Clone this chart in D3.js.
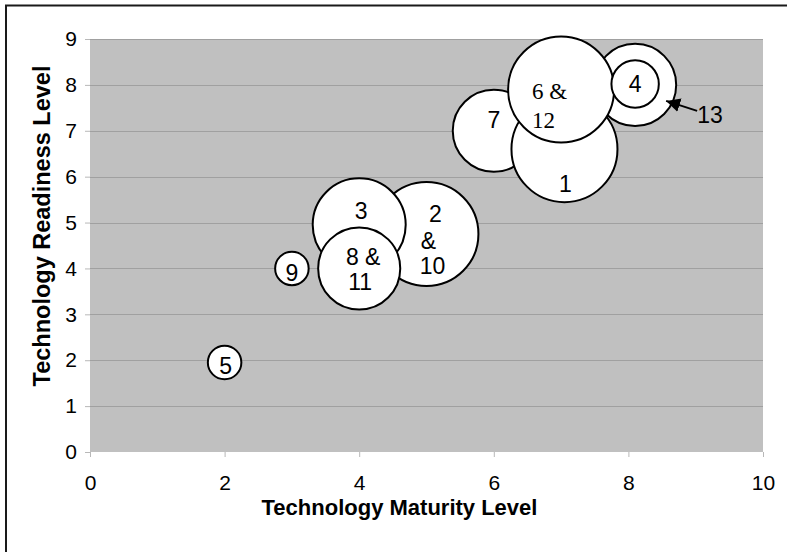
<!DOCTYPE html>
<html>
<head>
<meta charset="utf-8">
<script src="https://cdn.jsdelivr.net/npm/d3@7"></script>
<style>
  html, body { margin: 0; padding: 0; background: #fff; }
  svg { display: block; }
</style>
</head>
<body>
<svg id="chart" width="787" height="552"></svg>
<script>
// ---- data ----
const bubbleLabels = ["5", "9", "2 & 10", "3", "8 & 11", "7", "1", "13", "6 & 12", "4"];
const maturity     = [2,   3,   5,      4,    4,      6,   7.05, 8.1, 7.0,   8.1];
const readiness    = [1.95, 4,  4.75,   4.95, 4,      7,   6.6,  8,   7.9,   8.02];
const bubbleSize   = [10,  10,  96,     77,   60,     60,  100,  60,  100,   20];
const xTicks = [0, 2, 4, 6, 8, 10];
const yTicks = [0, 1, 2, 3, 4, 5, 6, 7, 8, 9];
const xTitle = "Technology Maturity Level";
const yTitle = "Technology Readiness Level";
const calloutLabel = "13";

// ---- layout / style (not data) ----
const plot = { left: 90, right: 763, top: 39, bottom: 452 };
const sans = "'Liberation Sans', Arial, Helvetica, sans-serif";
const serif = "'Liberation Serif', 'Times New Roman', serif";
// label placement per bubble: lines with offsets from the bubble centre
const labelLayout = {
  "5":      { font: sans, anchor: "middle", lines: [{ t: "5", dx: 1, dy: 3 }] },
  "9":      { font: sans, anchor: "middle", lines: [{ t: "9", dx: 0, dy: 5 }] },
  "3":      { font: sans, anchor: "middle", lines: [{ t: "3", dx: 2, dy: -14 }] },
  "8 & 11": { font: sans, anchor: "middle", lines: [{ t: "8 &", dx: 4, dy: -11 }, { t: "11", dx: 1, dy: 14 }] },
  "2 & 10": { font: sans, anchor: "middle", lines: [{ t: "2", dx: 9, dy: -20 }, { t: "&", dx: 2, dy: 7 }, { t: "10", dx: 6, dy: 32 }] },
  "7":      { font: sans, anchor: "middle", lines: [{ t: "7", dx: 0, dy: -11 }] },
  "1":      { font: sans, anchor: "middle", lines: [{ t: "1", dx: 1, dy: 35 }] },
  "6 & 12": { font: serif, anchor: "start", lines: [{ t: "6 &", dx: -29, dy: 2 }, { t: "12", dx: -29, dy: 31 }] },
  "4":      { font: sans, anchor: "middle", lines: [{ t: "4", dx: 0, dy: 0 }] },
  "13":     { font: sans, anchor: "middle", lines: [] }
};

const svg = d3.select("#chart");

const x = d3.scaleLinear().domain([0, 10]).range([plot.left, plot.right]);
const y = d3.scaleLinear().domain([0, 9]).range([plot.bottom, plot.top]);
const r = d3.scaleSqrt().domain([0, 100]).range([0, 53]);

// outer frame
svg.append("rect")
  .attr("x", 6).attr("y", 5.5)
  .attr("width", 800).attr("height", 600)
  .attr("fill", "none").attr("stroke", "#1a1a1a").attr("stroke-width", 2);

// plot background
svg.append("rect")
  .attr("x", plot.left).attr("y", plot.top)
  .attr("width", plot.right - plot.left).attr("height", plot.bottom - plot.top)
  .attr("fill", "#c0c0c0");

// grid lines
svg.append("g").selectAll("line").data(yTicks.filter(d => d > 0)).join("line")
  .attr("x1", plot.left).attr("x2", plot.right)
  .attr("y1", d => Math.round(y(d)) + 0.5).attr("y2", d => Math.round(y(d)) + 0.5)
  .attr("stroke", "#a0a0a0").attr("stroke-width", 1);

// axes
const xAxis = d3.axisBottom(x).tickValues(xTicks).tickSize(5).tickPadding(18).tickFormat(d3.format("d"));
const yAxis = d3.axisLeft(y).tickValues(yTicks).tickSize(5).tickPadding(8).tickFormat(d3.format("d"));

const gx = svg.append("g").attr("transform", `translate(0,${plot.bottom})`).call(xAxis);
const gy = svg.append("g").attr("transform", `translate(${plot.left},0)`).call(yAxis);
[gx, gy].forEach(g => {
  g.selectAll(".tick line").attr("stroke", "#b8b8b8");
  g.selectAll(".tick text").attr("fill", "#000").style("font-family", sans).style("font-size", "21px");
});
gx.select(".domain").remove();
gy.select(".domain").remove();

// axis titles
svg.append("text")
  .attr("x", (plot.left + plot.right) / 2 - 27).attr("y", 515)
  .attr("text-anchor", "middle")
  .style("font-family", sans).style("font-weight", "bold").style("font-size", "22px")
  .text(xTitle);

svg.append("text")
  .attr("transform", `translate(50,${226}) rotate(-90)`)
  .attr("text-anchor", "middle")
  .style("font-family", sans).style("font-weight", "bold").style("font-size", "23.5px")
  .text(yTitle);

// bubbles
const bubbles = bubbleLabels.map((label, i) => ({
  label, mx: maturity[i], ry: readiness[i], size: bubbleSize[i]
}));

const gb = svg.append("g");
bubbles.forEach(b => {
  const cx = x(b.mx), cy = y(b.ry);
  gb.append("circle")
    .attr("cx", cx).attr("cy", cy).attr("r", r(b.size))
    .attr("fill", "#fff").attr("stroke", "#000").attr("stroke-width", 2);
  const lay = labelLayout[b.label];
  lay.lines.forEach(l => {
    gb.append("text")
      .attr("x", cx + l.dx).attr("y", cy + l.dy)
      .attr("text-anchor", lay.anchor)
      .attr("dominant-baseline", "central")
      .style("font-family", lay.font).style("font-size", "23px")
      .text(l.t);
  });
});

// callout arrow for bubble 13
const b13 = bubbles.find(b => b.label === calloutLabel);
const c13 = { x: x(b13.mx), y: y(b13.ry) };
const tip = { x: c13.x + 31, y: c13.y + 16 };
const tail = { x: tip.x + 31, y: tip.y + 10 };

svg.append("defs").append("marker")
  .attr("id", "arrow").attr("viewBox", "0 0 10 10")
  .attr("refX", 10).attr("refY", 5)
  .attr("markerWidth", 14).attr("markerHeight", 14)
  .attr("markerUnits", "userSpaceOnUse")
  .attr("orient", "auto")
  .append("path").attr("d", "M0,0 L10,5 L0,10 Z").attr("fill", "#000");

svg.append("line")
  .attr("x1", tail.x).attr("y1", tail.y).attr("x2", tip.x).attr("y2", tip.y)
  .attr("stroke", "#000").attr("stroke-width", 2)
  .attr("marker-end", "url(#arrow)");

svg.append("text")
  .attr("x", tail.x).attr("y", tail.y + 4)
  .attr("dominant-baseline", "central")
  .style("font-family", sans).style("font-size", "23px")
  .text(calloutLabel);
</script>
</body>
</html>
